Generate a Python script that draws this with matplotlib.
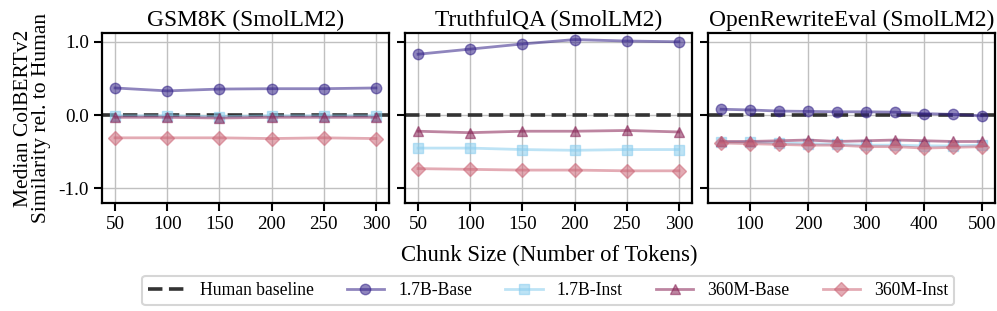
import numpy as np
import matplotlib

matplotlib.use('Agg')
import matplotlib.pyplot as plt

plt.rcParams['font.family'] = ['Liberation Serif', 'DejaVu Serif']
plt.rcParams['mathtext.fontset'] = 'stix'

# ----- data -----
titles = ['GSM8K (SmolLM2)', 'TruthfulQA (SmolLM2)', 'OpenRewriteEval (SmolLM2)']
chunks_short = [50, 100, 150, 200, 250, 300]
chunks_long = [50, 100, 150, 200, 250, 300, 350, 400, 450, 500]

gsm_base17 = [0.37, 0.33, 0.355, 0.36, 0.36, 0.37]
gsm_inst17 = [-0.01, -0.01, -0.02, -0.01, -0.01, -0.01]
gsm_base360 = [-0.03, -0.03, -0.04, -0.03, -0.03, -0.03]
gsm_inst360 = [-0.31, -0.31, -0.31, -0.32, -0.31, -0.32]

tqa_base17 = [0.83, 0.90, 0.97, 1.03, 1.01, 1.00]
tqa_inst17 = [-0.45, -0.45, -0.47, -0.48, -0.47, -0.47]
tqa_base360 = [-0.22, -0.24, -0.22, -0.22, -0.21, -0.23]
tqa_inst360 = [-0.73, -0.74, -0.75, -0.75, -0.76, -0.76]

ore_base17 = [0.08, 0.07, 0.055, 0.05, 0.045, 0.045, 0.04, 0.02, 0.01, -0.01]
ore_inst17 = [-0.37, -0.37, -0.38, -0.39, -0.40, -0.41, -0.41, -0.42, -0.42, -0.41]
ore_base360 = [-0.36, -0.36, -0.35, -0.34, -0.36, -0.35, -0.34, -0.35, -0.36, -0.36]
ore_inst360 = [-0.38, -0.39, -0.40, -0.41, -0.41, -0.43, -0.43, -0.45, -0.44, -0.43]

series_names = ['1.7B-Base', '1.7B-Inst', '360M-Base', '360M-Inst']
colors = ['#332288', '#88CCEE', '#882255', '#CC6677']
markers = ['o', 's', '^', 'D']

panels = [
    (chunks_short, [gsm_base17, gsm_inst17, gsm_base360, gsm_inst360], [50, 100, 150, 200, 250, 300]),
    (chunks_short, [tqa_base17, tqa_inst17, tqa_base360, tqa_inst360], [50, 100, 150, 200, 250, 300]),
    (chunks_long, [ore_base17, ore_inst17, ore_base360, ore_inst360], [100, 200, 300, 400, 500]),
]

fig, axes = plt.subplots(1, 3, figsize=(9.97, 3.11), dpi=100, sharey=True)
fig.subplots_adjust(left=0.1023, right=0.998, top=0.894, bottom=0.347, wspace=0.056)

handles = None
for ax, title, (xs, ys, ticks) in zip(axes, titles, panels):
    ax.grid(True, color='#c0c0c0', linewidth=1.0, zorder=0)
    # human baseline sits at zero
    hb = ax.axhline(0, color='#333333', linestyle='--', linewidth=2.6, dashes=(4, 1.8),
                    label='Human baseline', zorder=2)
    lines = [hb]
    for vals, name, c, m in zip(ys, series_names, colors, markers):
        ln, = ax.plot(xs, vals, color=c, marker=m, markersize=7.5, linewidth=2,
                      alpha=0.55, label=name, zorder=3)
        lines.append(ln)
    handles = lines
    ax.set_title(title, fontsize=16.8, pad=5)
    ax.set_xticks(ticks)
    span = xs[-1] - xs[0]
    ax.set_xlim(xs[0] - 0.05 * span, xs[-1] + 0.05 * span)
    ax.set_ylim(-1.2, 1.12)
    ax.set_yticks([-1.0, 0.0, 1.0])
    ax.set_yticklabels(['-1.0', '0.0', '1.0'])
    ax.tick_params(axis='both', labelsize=13.8, length=6, width=1.5, direction='out')
    for s in ax.spines.values():
        s.set_linewidth(1.6)
        s.set_color('black')

axes[0].set_ylabel('Median ColBERTv2\nSimilarity rel. to Human', fontsize=15.5, linespacing=0.95, labelpad=5)
fig.text(0.551, 0.178, 'Chunk Size (Number of Tokens)', ha='center', va='center', fontsize=16.4)

leg = fig.legend(handles, ['Human baseline'] + series_names, loc='center', ncol=5,
                 bbox_to_anchor=(0.55, 0.066), fontsize=12.7, frameon=True, fancybox=True,
                 handlelength=2.1, columnspacing=1.9, borderpad=0.35, edgecolor='#cccccc')
leg.get_frame().set_linewidth(1.5)

fig.savefig('out.png', dpi=100)
